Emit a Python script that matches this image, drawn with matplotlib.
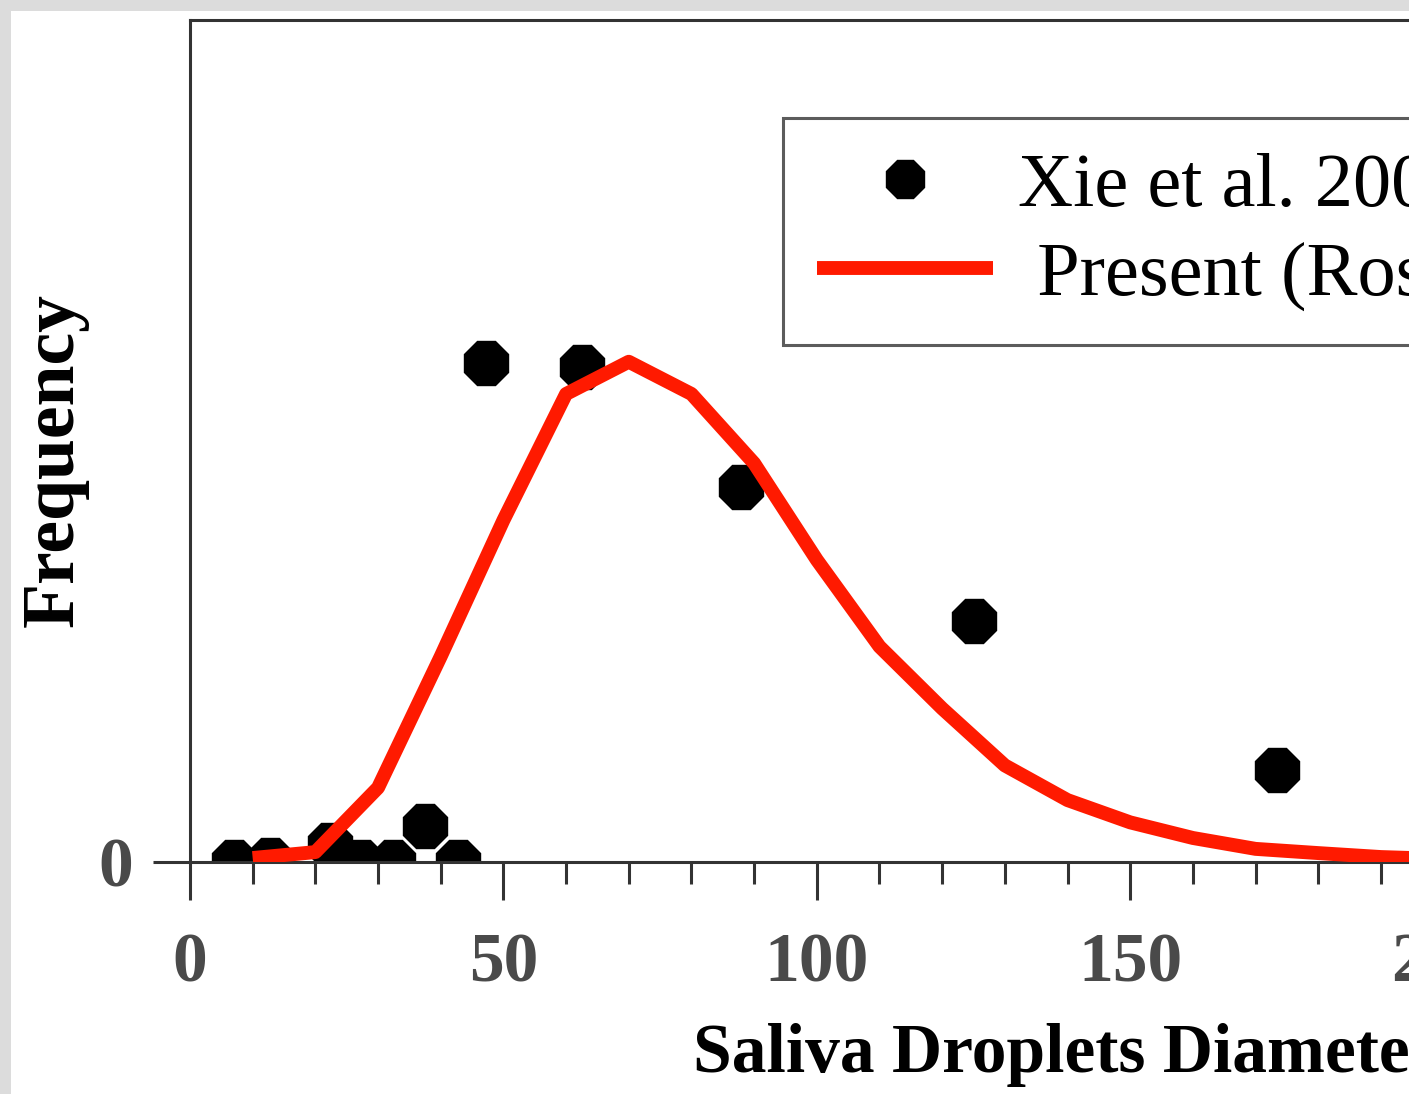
import matplotlib
matplotlib.use('Agg')
import matplotlib.pyplot as plt
from matplotlib.patches import Rectangle
from matplotlib.ticker import MultipleLocator

# measured points (Xie et al.)
xie_diam = [7, 12.8, 22.4, 27.3, 32.4, 37.5, 42.8, 47.3, 62.5, 87.9, 125.1, 173.5]
xie_freq = [0.0, 0.001, 0.007, 0.0, 0.0, 0.0145, 0.0, 0.2015, 0.200, 0.1515, 0.0973, 0.0372]

# present model curve
model_diam = [10, 20, 30, 40, 50, 60, 70, 80, 90, 100, 110, 120, 130, 140, 150, 160, 170, 180, 190, 200]
model_freq = [0.0016, 0.004, 0.030, 0.083, 0.138, 0.189, 0.202, 0.189, 0.161, 0.122, 0.087, 0.062,
              0.039, 0.025, 0.016, 0.0097, 0.0053, 0.0036, 0.002, 0.0012]

W, H = 1409, 1094
fig = plt.figure(figsize=(W / 100, H / 100), dpi=100)
fig.patch.set_facecolor('#dcdcdc')
fig.add_artist(Rectangle((11 / W, 0), 1, 1 - 11 / H, transform=fig.transFigure,
                         facecolor='white', edgecolor='none', zorder=0))

serif = ['Liberation Serif', 'DejaVu Serif']

ax = fig.add_axes([190 / W, 232 / H, 1567 / W, 842 / H])
ax.plot(xie_diam, xie_freq, linestyle='none', marker='8', markersize=34,
        color='black', label='Xie et al. 2009', zorder=2)
ax.plot(model_diam, model_freq, color='#ff1a00', linewidth=10, solid_joinstyle='round',
        solid_capstyle='butt', label=' Present (Rosin-Rammler)', zorder=3)

ax.set_xlim(0, 250)
ax.set_ylim(0, 0.34)
ax.xaxis.set_major_locator(MultipleLocator(50))
ax.xaxis.set_minor_locator(MultipleLocator(10))
ax.set_yticks([0])

for s in ax.spines.values():
    s.set_color('#333333')
    s.set_linewidth(2.2)
ax.tick_params(which='major', length=27, width=2.2, color='#333333', pad=14,
               labelsize=50, labelcolor='#4a4a4a')
ax.tick_params(axis='x', which='major', pad=24)
ax.tick_params(which='minor', length=16, width=2.2, color='#333333')
for lab in ax.get_xticklabels() + ax.get_yticklabels():
    lab.set_family(serif)
    lab.set_fontweight('bold')

fig.text(55 / W, 1 - 460 / H, 'Frequency', rotation=90, ha='center', va='center',
         family=serif, fontweight='bold', fontsize=53)
fig.text(693 / W, 1 - 1072 / H, 'Saliva Droplets Diameter (\u03bcm)', ha='left', va='baseline',
         family=serif, fontweight='bold', fontsize=50)

leg = ax.legend(loc='upper left', bbox_to_anchor=(783 / W, 1 - 118 / H),
                bbox_transform=fig.transFigure, prop={'family': serif, 'size': 55},
                markerscale=0.86, handlelength=2.3, handletextpad=0.32,
                labelspacing=0.25, borderpad=0.45, borderaxespad=0, fancybox=False)
leg.get_frame().set_edgecolor('#333333')
leg.get_frame().set_linewidth(2.2)

fig.savefig('out.png', dpi=100)
